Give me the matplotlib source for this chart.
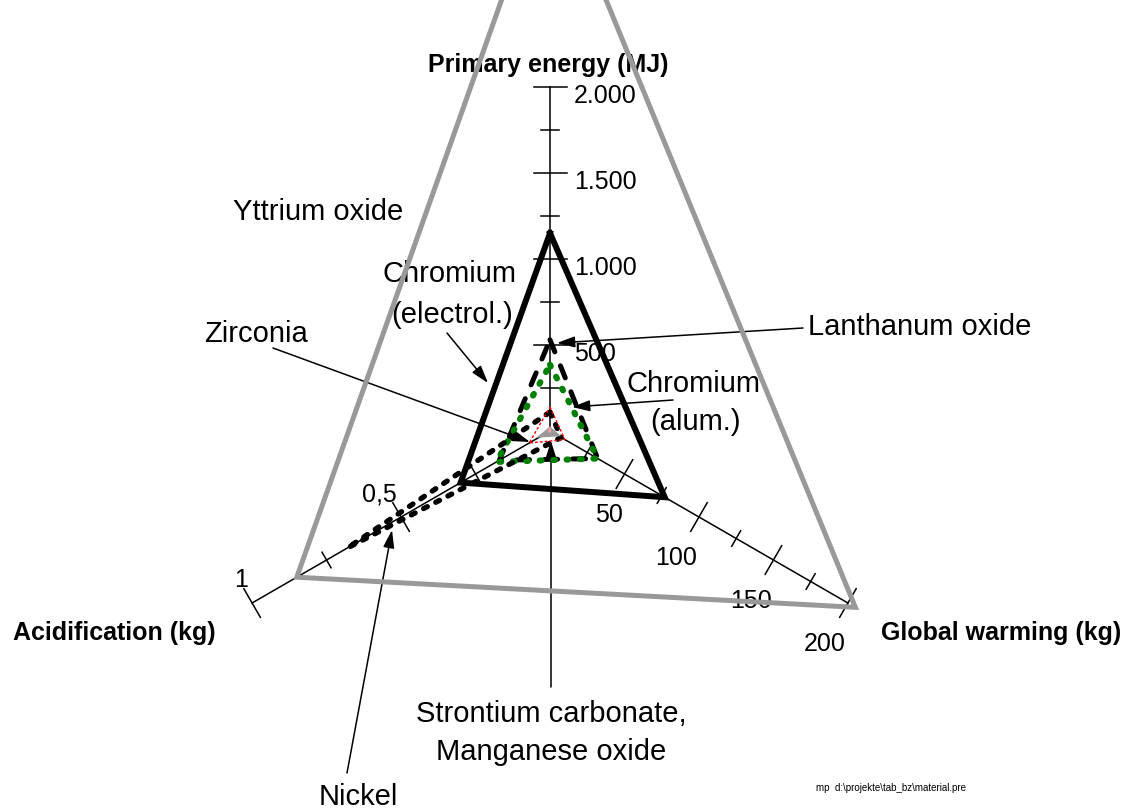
import numpy as np
import matplotlib.pyplot as plt

plt.rcParams['font.family'] = ['Liberation Sans', 'DejaVu Sans']

W, H = 1129, 810
CX, CY, R = 550, 431, 344   # centre of the star and length of a full axis (pixels)

axis_names = ["Primary energy (MJ)", "Global warming (kg)", "Acidification (kg)"]
axis_max = [2000, 200, 1.0]
axis_angle = [90, -30, 210]

materials = ["Yttrium oxide", "Chromium (electrol.)", "Lanthanum oxide", "Chromium (alum.)",
             "Nickel", "Zirconia", "Strontium carbonate", "Manganese oxide"]
primary_energy = [3300, 1150, 530, 385, 110, 140, 10, 15]
global_warming = [205, 77, 32, 32, 7.5, 10, 4, 0.5]
acidification = [0.85, 0.30, 0.17, 0.18, 0.68, 0.07, 0.025, 0.005]

pe_major = [500, 1000, 1500, 2000]
pe_minor = [250, 750, 1250, 1750]
pe_labels = ["500", "1.000", "1.500", "2.000"]
gw_major = [50, 100, 150, 200]
gw_minor = [25, 75, 125, 175]
gw_labels = ["50", "100", "150", "200"]
ac_major = [0.5, 1.0]
ac_minor = [0.25, 0.75]
ac_labels = ["0,5", "1"]

styles = {
    "Yttrium oxide": dict(color='#999999', lw=3.6, ls='-', zorder=6),
    "Chromium (electrol.)": dict(color='black', lw=4.3, ls='-', zorder=4),
    "Lanthanum oxide": dict(color='black', lw=3.6, ls=(0, (2.6, 3.0)), dash_capstyle='round', zorder=4),
    "Chromium (alum.)": dict(color='green', lw=4.4, ls=(0, (0.3, 1.9)), dash_capstyle='round', zorder=4),
    "Nickel": dict(color='black', lw=3.8, ls=(0, (0.8, 1.8)), dash_capstyle='round', zorder=4),
    "Zirconia": dict(color='red', lw=1.0, ls=(0, (2.0, 1.5)), zorder=5),
    "Strontium carbonate": dict(color='#999999', lw=3.0, ls='-', zorder=5),
    "Manganese oxide": dict(color='#ffa0a0', lw=1.0, ls='-', zorder=5),
}


def px(x, y):
    # pixel position (origin top left) -> data coordinates
    return (x - CX) / R, (CY - y) / R


def on_axis(value, i):
    r = value / axis_max[i]
    a = np.radians(axis_angle[i])
    return r * np.cos(a), r * np.sin(a)


def to_px(value, i):
    x, y = on_axis(value, i)
    return CX + x * R, CY - y * R


fig = plt.figure(figsize=(W / 100, H / 100), dpi=100)
ax = fig.add_axes([0, 0, 1, 1])
ax.set_xlim(px(0, 0)[0], px(W, 0)[0])
ax.set_ylim(px(0, H)[1], px(0, 0)[1])
ax.axis('off')

# axes with tick marks
ticks = [(pe_major, pe_minor), (gw_major, gw_minor), (ac_major, ac_minor)]
for i in range(3):
    ex, ey = on_axis(axis_max[i], i)
    ax.plot([0, ex], [0, ey], color='black', lw=1.1, zorder=2)
    a = np.radians(axis_angle[i])
    nx, ny = -np.sin(a), np.cos(a)
    for vals, half in [(ticks[i][0], 16.5), (ticks[i][1], 9)]:
        for v in vals:
            tx, ty = on_axis(v, i)
            h = half / R
            ax.plot([tx - nx * h, tx + nx * h], [ty - ny * h, ty + ny * h],
                    color='black', lw=1.1, zorder=2)

# tick labels
for v, lab in zip(pe_major, pe_labels):
    x, y = to_px(v, 0)
    ax.text(*px(x + 24, y + 16), lab, fontsize=18, ha='left', va='baseline')
for v, lab in zip(gw_major, gw_labels):
    x, y = to_px(v, 1)
    ax.text(*px(x - 2, y + 48), lab, fontsize=18, ha='right', va='baseline')
for v, lab in zip(ac_major, ac_labels):
    x, y = to_px(v, 2)
    ax.text(*px(x - 4, y - 16), lab, fontsize=18, ha='right', va='baseline')

# axis titles
ax.text(*px(548, 72), axis_names[0], fontsize=18, fontweight='bold', ha='center', va='baseline')
ax.text(*px(1001, 640), axis_names[1], fontsize=18, fontweight='bold', ha='center', va='baseline')
ax.text(*px(114, 640), axis_names[2], fontsize=18, fontweight='bold', ha='center', va='baseline')

# one triangle per material
for k, name in enumerate(materials):
    vals = [primary_energy[k], global_warming[k], acidification[k]]
    pts = [on_axis(v, i) for i, v in enumerate(vals)]
    pts.append(pts[0])
    xs, ys = zip(*pts)
    st = dict(styles[name])
    ax.plot(xs, ys, color=st.pop('color'), lw=st.pop('lw'), ls=st.pop('ls'),
            solid_joinstyle='miter', **st)

# material labels
lab_size = 21
ax.text(*px(318, 220), "Yttrium oxide", fontsize=lab_size, ha='center', va='baseline')
ax.text(*px(450, 282), "Chromium", fontsize=lab_size, ha='center', va='baseline')
ax.text(*px(452, 323), "(electrol.)", fontsize=lab_size, ha='center', va='baseline')
ax.text(*px(256, 342), "Zirconia", fontsize=lab_size, ha='center', va='baseline')
ax.text(*px(808, 335), "Lanthanum oxide", fontsize=lab_size, ha='left', va='baseline')
ax.text(*px(694, 392), "Chromium", fontsize=lab_size, ha='center', va='baseline')
ax.text(*px(695, 430), "(alum.)", fontsize=lab_size, ha='center', va='baseline')
ax.text(*px(551, 722), "Strontium carbonate,", fontsize=lab_size, ha='center', va='baseline')
ax.text(*px(551, 760), "Manganese oxide", fontsize=lab_size, ha='center', va='baseline')
ax.text(*px(358, 805), "Nickel", fontsize=lab_size, ha='center', va='baseline')

# leader arrows
arrows = [((447, 333), (488, 383)),
          ((273, 348), (530, 442)),
          ((803, 328), (557, 343)),
          ((673, 400), (572, 407)),
          ((551, 687), (551, 441)),
          ((347, 773), (392, 530))]
for start, tip in arrows:
    ax.annotate('', xy=px(*tip), xytext=px(*start),
                arrowprops=dict(arrowstyle='-|>,head_length=0.9,head_width=0.28',
                                mutation_scale=12, color='black', lw=1.1,
                                shrinkA=0, shrinkB=0), zorder=3)

ax.text(*px(891, 791), "mp  d:\\projekte\\tab_bz\\material.pre", fontsize=7,
        ha='center', va='baseline')

fig.savefig('out.png', dpi=100)
